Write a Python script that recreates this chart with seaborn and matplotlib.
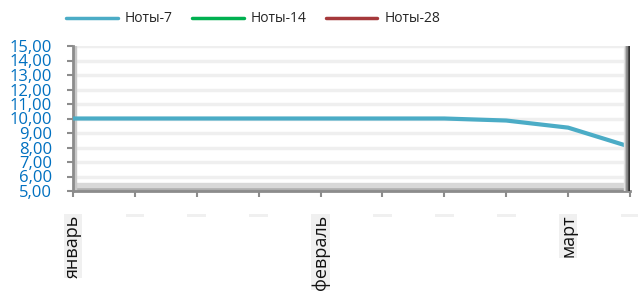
import numpy as np
import pandas as pd
import matplotlib
matplotlib.use("Agg")
import matplotlib.pyplot as plt
import matplotlib.ticker as mticker
import seaborn as sns
from matplotlib.lines import Line2D

# ─── Data ────────────────────────────────────────────────────────────────────
months   = ["январь", "\u200a", "\u200a", "\u200a", "февраль",
            "\u200a", "\u200a", "\u200a", "март", "\u200a"]
notes_7  = [10.00, 10.00, 10.00, 10.00, 10.00, 10.00, 10.00, 9.86, 9.37, 8.05]
notes_14 = [np.nan] * len(months)
notes_28 = [np.nan] * len(months)
series   = ["Ноты-7", "Ноты-14", "Ноты-28"]
colors   = ["#4BACC6", "#00B050", "#A5393B"]
y_ticks  = [5, 6, 7, 8, 9, 10, 11, 12, 13, 14, 15]

df = pd.DataFrame({"pos": np.arange(len(months)), "Ноты-7": notes_7,
                   "Ноты-14": notes_14, "Ноты-28": notes_28})

sns.set_style("white")
plt.rcParams["font.family"] = ["Open Sans", "DejaVu Sans"]

fig = plt.figure(figsize=(6.38, 2.91), dpi=100)
ax = fig.add_axes([73 / 638, 1 - 191 / 291, (630 - 73) / 638, (191 - 46) / 291])

for name, col in zip(series, colors):
    if df[name].notna().any():
        sns.lineplot(data=df, x="pos", y=name, color=col, linewidth=3, ax=ax,
                     zorder=5)

ax.set_xlim(0, len(months) - 1)
ax.set_ylim(5, 15)
ax.set_yticks(y_ticks)
ax.yaxis.set_major_formatter(mticker.FuncFormatter(lambda v, _: f"{v:.2f}".replace(".", ",")))
ax.grid(axis="y", color="#EFEFEF", linewidth=2.5)
ax.set_axisbelow(True)
ax.set_xlabel(""); ax.set_ylabel("")

# 3D-ish walls
ax.axhspan(5, 5.3, color="#B0B0B0", zorder=2)
ax.axhspan(5.3, 5.55, color="#D8D8D8", zorder=2)
ax.axvspan(0, 0.05, color="#C8C8C8", zorder=2)
for i, c in enumerate(["#E8E8E8", "#C8C8C8", "#909090", "#505050", "#303030"]):
    ax.axvspan(8.9 + i * 0.02, 8.92 + i * 0.02, color=c, zorder=6)

for s in ["top", "right"]:
    ax.spines[s].set_visible(False)
for s in ["left", "bottom"]:
    ax.spines[s].set_color("#8C8C8C")
    ax.spines[s].set_linewidth(2)

ax.tick_params(axis="y", colors="#8C8C8C", length=4, width=1.5, direction="out",
               labelcolor="#0070C0", labelsize=12, pad=11)
ax.yaxis.set_tick_params(left=True)

ax.set_xticks(df["pos"])
ax.set_xticklabels(months, rotation=90, fontsize=13, color="#111111", va="top")
ax.tick_params(axis="x", colors="#8C8C8C", length=4, width=1.5, direction="out",
               labelcolor="#111111", pad=13)
ax.xaxis.set_tick_params(bottom=True)
for lbl in ax.get_xticklabels():
    lbl.set_bbox(dict(facecolor="#F0F0F0", edgecolor="none", pad=0.3))

handles = [Line2D([], [], color=c, linewidth=2.5) for c in colors]
fig.legend(handles, series, loc="center", bbox_to_anchor=(0.397, 0.935), ncol=3,
           frameon=False, fontsize=10, handlelength=3.7, columnspacing=1.4,
           handletextpad=0.5)

fig.savefig("out.png", dpi=100, facecolor="white")
